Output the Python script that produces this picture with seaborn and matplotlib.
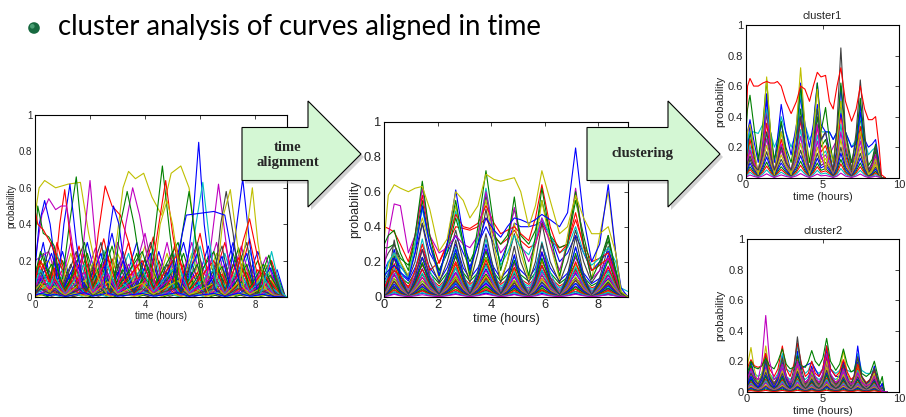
import numpy as np
import pandas as pd
import matplotlib
matplotlib.use("Agg")
import matplotlib.pyplot as plt
import seaborn as sns
from matplotlib.patches import Polygon, Circle

sns.set_style("white")
plt.rcParams['font.family'] = ['Liberation Sans', 'DejaVu Sans']

# ---------------- text ----------------
bullet_text = "cluster analysis of curves aligned in time"
arrow1_text = "time\nalignment"
arrow2_text = "clustering"
xlabel_text = "time (hours)"
ylabel_text = "probability"
cluster_titles = ["cluster1", "cluster2"]

y_ticks = [0, 0.2, 0.4, 0.6, 0.8, 1]
y_ticklabels = ["0", "0.2", "0.4", "0.6", "0.8", "1"]
x_ticks_main = [0, 2, 4, 6, 8]
x_ticklabels_main = ["0", "2", "4", "6", "8"]
x_ticks_cl = [0, 5, 10]
x_ticklabels_cl = ["0", "5", "10"]

# MATLAB default line colours
mcol = {'b': (0, 0, 1), 'g': (0, 0.5, 0), 'r': (1, 0, 0), 'c': (0, 0.75, 0.75),
        'm': (0.75, 0, 0.75), 'y': (0.75, 0.75, 0), 'k': (0.25, 0.25, 0.25)}
color_cycle = ['b', 'g', 'r', 'c', 'm', 'y', 'k']

# ---------------- panel 1: raw (unaligned) curves, keypoints (time, prob) ----------------
raw_y1 = [(0, 0.45), (0.15, 0.6), (0.35, 0.64), (0.75, 0.6), (1.2, 0.62), (1.65, 0.63), (1.95, 0.35), (2.3, 0.1), (2.6, 0.02)]
raw_y2 = [(2.7, 0.05), (3.0, 0.35), (3.2, 0.6), (3.4, 0.69), (3.65, 0.65), (3.95, 0.68), (4.25, 0.55), (4.6, 0.45), (4.95, 0.68), (5.3, 0.72), (5.6, 0.6), (5.85, 0.3), (6.1, 0.1), (6.3, 0.02)]
raw_b1 = [(5.3, 0.05), (5.55, 0.2), (5.75, 0.45), (5.95, 0.85), (6.15, 0.4), (6.4, 0.1), (6.6, 0.03)]
raw_b2 = [(7.0, 0.05), (7.25, 0.3), (7.55, 0.65), (7.8, 0.3), (8.05, 0.05)]
raw_y3 = [(7.4, 0.05), (7.65, 0.3), (7.9, 0.6), (8.1, 0.3), (8.35, 0.05)]
raw_g1 = [(4.1, 0.05), (4.35, 0.35), (4.63, 0.72), (4.9, 0.35), (5.15, 0.05)]
raw_r1 = [(4.2, 0.1), (4.45, 0.35), (4.75, 0.64), (5.0, 0.35), (5.3, 0.08)]
raw_m1 = [(1.6, 0.05), (1.8, 0.35), (2.0, 0.64), (2.2, 0.3), (2.45, 0.05)]
raw_r2 = [(2.1, 0.1), (2.3, 0.35), (2.55, 0.61), (2.8, 0.5), (3.1, 0.45), (3.4, 0.3), (3.7, 0.1)]
raw_g2 = [(1.0, 0.1), (1.25, 0.4), (1.5, 0.66), (1.7, 0.35), (1.95, 0.05)]
raw_b3 = [(0.85, 0.1), (1.05, 0.4), (1.27, 0.62), (1.5, 0.3), (1.75, 0.05)]
raw_r3 = [(0.7, 0.1), (0.9, 0.4), (1.08, 0.59), (1.3, 0.3), (1.55, 0.05)]
raw_m2 = [(0.0, 0.2), (0.25, 0.45), (0.5, 0.54), (0.75, 0.48), (0.95, 0.5), (1.15, 0.5), (1.4, 0.25), (1.7, 0.05)]
raw_b4 = [(0, 0.15), (0.15, 0.4), (0.35, 0.53), (0.55, 0.4), (0.8, 0.1)]
raw_g3 = [(0, 0.3), (0.1, 0.5), (0.3, 0.35), (0.5, 0.33), (0.7, 0.28), (0.9, 0.1)]
raw_r4 = [(0, 0.48), (0.1, 0.4), (0.3, 0.37), (0.55, 0.3), (0.8, 0.22), (1.0, 0.15)]
raw_m3 = [(3.0, 0.05), (3.3, 0.4), (3.55, 0.6), (3.8, 0.45), (4.1, 0.2), (4.4, 0.05)]
raw_m4 = [(6.2, 0.05), (6.45, 0.35), (6.67, 0.62), (6.9, 0.35), (7.15, 0.05)]
raw_k1 = [(6.5, 0.05), (6.75, 0.4), (6.95, 0.58), (7.2, 0.35), (7.45, 0.05)]
raw_y4 = [(6.6, 0.1), (6.85, 0.45), (7.1, 0.59), (7.35, 0.3), (7.6, 0.05)]
raw_c1 = [(5.6, 0.1), (5.85, 0.4), (6.1, 0.63), (6.35, 0.3), (6.6, 0.05)]
raw_g4 = [(5.1, 0.05), (5.35, 0.35), (5.6, 0.58), (5.85, 0.3), (6.1, 0.05)]
raw_r5 = [(7.3, 0.1), (7.55, 0.3), (7.8, 0.43), (8.05, 0.25), (8.3, 0.05)]
raw_b5 = [(5.0, 0.1), (5.5, 0.45), (6.0, 0.46), (6.5, 0.47), (6.9, 0.45), (7.2, 0.2), (7.5, 0.05)]
raw_b6 = [(2.5, 0.05), (2.7, 0.35), (2.85, 0.5), (3.05, 0.4), (3.3, 0.1)]
raw_g5 = [(2.9, 0.1), (3.1, 0.4), (3.35, 0.58), (3.6, 0.4), (3.9, 0.1)]
raw_c2 = [(8.2, 0.02), (8.4, 0.12), (8.6, 0.25), (8.8, 0.12), (9.0, 0.02), (9.15, 0.0)]
raw_g6 = [(8.1, 0.02), (8.3, 0.15), (8.5, 0.23), (8.7, 0.12), (8.9, 0.02)]
raw_y5 = [(4.3, 0.1), (4.55, 0.4), (4.8, 0.53), (5.0, 0.4), (5.3, 0.1)]
raw_named = [(raw_y1, 'y'), (raw_y2, 'y'), (raw_b1, 'b'), (raw_b2, 'b'), (raw_y3, 'y'), (raw_g1, 'g'),
             (raw_r1, 'r'), (raw_m1, 'm'), (raw_r2, 'r'), (raw_g2, 'g'), (raw_b3, 'b'), (raw_r3, 'r'),
             (raw_m2, 'm'), (raw_b4, 'b'), (raw_g3, 'g'), (raw_r4, 'r'), (raw_m3, 'm'), (raw_m4, 'm'),
             (raw_k1, 'k'), (raw_y4, 'y'), (raw_c1, 'c'), (raw_g4, 'g'), (raw_r5, 'r'), (raw_b5, 'b'),
             (raw_b6, 'b'), (raw_g5, 'g'), (raw_c2, 'c'), (raw_g6, 'g'), (raw_y5, 'y')]

raw_bulk1 = [(0, 0.1), (0.3, 0.3), (0.6, 0.05), (1.0, 0.25), (1.4, 0.02), (1.9, 0.3), (2.3, 0.05), (2.8, 0.35), (3.2, 0.05), (3.7, 0.3), (4.1, 0.03), (4.5, 0.25), (4.9, 0.05), (5.4, 0.3), (5.8, 0.04), (6.3, 0.28), (6.7, 0.03), (7.2, 0.3), (7.6, 0.05), (8.1, 0.25), (8.5, 0.05), (8.8, 0.15), (9.1, 0.0)]
raw_bulk2 = [(0, 0.05), (0.15, 0.2), (0.45, 0.03), (0.8, 0.3), (1.2, 0.05), (1.6, 0.28), (2.0, 0.03), (2.5, 0.32), (2.9, 0.04), (3.4, 0.3), (3.8, 0.05), (4.3, 0.33), (4.7, 0.03), (5.1, 0.3), (5.5, 0.05), (6.0, 0.35), (6.4, 0.04), (6.9, 0.3), (7.3, 0.04), (7.8, 0.32), (8.2, 0.04), (8.6, 0.2), (9.0, 0.01)]
raw_bulk3 = [(0, 0.2), (0.5, 0.25), (0.9, 0.04), (1.3, 0.3), (1.7, 0.05), (2.2, 0.27), (2.6, 0.03), (3.0, 0.3), (3.5, 0.08), (4.0, 0.35), (4.4, 0.05), (4.8, 0.3), (5.2, 0.03), (5.7, 0.3), (6.1, 0.05), (6.6, 0.3), (7.0, 0.04), (7.5, 0.28), (7.9, 0.04), (8.4, 0.22), (8.8, 0.03), (9.1, 0.0)]
raw_bulk4 = [(0, 0.02), (0.6, 0.3), (1.0, 0.04), (1.5, 0.25), (1.85, 0.05), (2.4, 0.3), (2.75, 0.03), (3.2, 0.25), (3.6, 0.03), (4.2, 0.3), (4.6, 0.04), (5.0, 0.25), (5.3, 0.03), (5.9, 0.3), (6.2, 0.04), (6.8, 0.28), (7.1, 0.05), (7.7, 0.3), (8.0, 0.03), (8.55, 0.2), (9.0, 0.0)]
raw_bulk5 = [(0, 0.12), (0.2, 0.25), (0.55, 0.1), (0.7, 0.2), (1.1, 0.03), (1.8, 0.3), (2.1, 0.05), (2.65, 0.28), (3.0, 0.05), (3.9, 0.25), (4.3, 0.05), (5.2, 0.3), (5.6, 0.04), (6.5, 0.25), (6.9, 0.03), (7.4, 0.27), (7.8, 0.05), (8.3, 0.18), (8.7, 0.02), (9.1, 0.0)]
raw_bulk_profiles = [raw_bulk1, raw_bulk2, raw_bulk3, raw_bulk4, raw_bulk5]
raw_bulk_scales = [1.0, 0.8, 0.6, 0.45, 0.3, 0.18, 0.08]

# ---------------- panel 2: aligned curves ----------------
mid_t = [0, 0.15, 0.37, 0.6, 0.9, 1.15, 1.42, 1.7, 2.05, 2.35, 2.67, 2.95, 3.2, 3.5, 3.8, 4.1, 4.35,
         4.6, 4.86, 5.1, 5.4, 5.65, 5.89, 6.2, 6.55, 6.85, 7.15, 7.45, 7.75, 8.05, 8.37, 8.65, 8.85, 9.1]
mid_y1 = [0.33, 0.58, 0.64, 0.62, 0.60, 0.62, 0.63, 0.50, 0.26, 0.33, 0.60, 0.55, 0.45, 0.52, 0.70, 0.67, 0.66, 0.67, 0.68, 0.60, 0.40, 0.52, 0.72, 0.55, 0.36, 0.40, 0.58, 0.45, 0.36, 0.36, 0.40, 0.25, 0.03, 0.0]
mid_b1 = [0.12, 0.15, 0.18, 0.14, 0.10, 0.25, 0.52, 0.30, 0.12, 0.30, 0.61, 0.35, 0.15, 0.30, 0.45, 0.38, 0.34, 0.40, 0.45, 0.44, 0.42, 0.44, 0.47, 0.44, 0.40, 0.48, 0.85, 0.45, 0.20, 0.30, 0.64, 0.25, 0.05, 0.0]
mid_g1 = [0.30, 0.35, 0.38, 0.25, 0.15, 0.35, 0.66, 0.35, 0.12, 0.30, 0.55, 0.30, 0.12, 0.40, 0.72, 0.40, 0.15, 0.30, 0.57, 0.30, 0.12, 0.35, 0.62, 0.35, 0.12, 0.30, 0.60, 0.30, 0.10, 0.20, 0.35, 0.15, 0.02, 0.0]
mid_m1 = [0.15, 0.35, 0.53, 0.52, 0.25, 0.35, 0.62, 0.35, 0.25, 0.28, 0.35, 0.30, 0.28, 0.35, 0.60, 0.35, 0.25, 0.30, 0.51, 0.30, 0.20, 0.30, 0.45, 0.30, 0.15, 0.30, 0.62, 0.30, 0.10, 0.15, 0.22, 0.12, 0.02, 0.0]
mid_r1 = [0.40, 0.39, 0.37, 0.30, 0.20, 0.35, 0.58, 0.35, 0.19, 0.30, 0.47, 0.40, 0.39, 0.42, 0.52, 0.42, 0.36, 0.38, 0.40, 0.36, 0.32, 0.45, 0.64, 0.40, 0.25, 0.30, 0.48, 0.28, 0.15, 0.18, 0.22, 0.10, 0.02, 0.0]
mid_c1 = [0.10, 0.20, 0.25, 0.18, 0.10, 0.30, 0.50, 0.30, 0.12, 0.28, 0.49, 0.30, 0.14, 0.35, 0.62, 0.35, 0.18, 0.25, 0.35, 0.28, 0.24, 0.33, 0.45, 0.35, 0.25, 0.28, 0.40, 0.25, 0.18, 0.22, 0.28, 0.20, 0.05, 0.03]
mid_y2 = [0.10, 0.18, 0.25, 0.20, 0.12, 0.30, 0.45, 0.30, 0.10, 0.30, 0.52, 0.30, 0.10, 0.35, 0.55, 0.30, 0.10, 0.20, 0.42, 0.25, 0.10, 0.30, 0.55, 0.30, 0.10, 0.35, 0.58, 0.30, 0.10, 0.35, 0.60, 0.25, 0.02, 0.0]
mid_k1 = [0.20, 0.25, 0.30, 0.20, 0.10, 0.20, 0.42, 0.20, 0.08, 0.20, 0.38, 0.20, 0.08, 0.25, 0.50, 0.25, 0.08, 0.20, 0.36, 0.20, 0.08, 0.20, 0.42, 0.20, 0.08, 0.20, 0.38, 0.20, 0.08, 0.15, 0.35, 0.12, 0.02, 0.0]
mid_g2 = [0.28, 0.28, 0.30, 0.22, 0.18, 0.30, 0.55, 0.30, 0.15, 0.25, 0.45, 0.30, 0.20, 0.30, 0.58, 0.35, 0.30, 0.35, 0.50, 0.35, 0.30, 0.38, 0.55, 0.35, 0.28, 0.30, 0.55, 0.35, 0.15, 0.18, 0.32, 0.15, 0.02, 0.0]
mid_r2 = [0.05, 0.10, 0.15, 0.12, 0.05, 0.15, 0.30, 0.15, 0.20, 0.30, 0.40, 0.39, 0.38, 0.40, 0.45, 0.35, 0.30, 0.33, 0.38, 0.32, 0.28, 0.30, 0.42, 0.32, 0.28, 0.30, 0.44, 0.30, 0.20, 0.22, 0.25, 0.12, 0.02, 0.0]
mid_b2 = [0.15, 0.20, 0.22, 0.17, 0.12, 0.25, 0.42, 0.25, 0.15, 0.25, 0.35, 0.25, 0.17, 0.30, 0.40, 0.30, 0.20, 0.30, 0.42, 0.40, 0.40, 0.41, 0.43, 0.35, 0.20, 0.25, 0.35, 0.25, 0.15, 0.20, 0.26, 0.15, 0.03, 0.0]
mid_named = [(mid_b2, 'b'), (mid_r2, 'r'), (mid_g2, 'g'), (mid_k1, 'k'), (mid_y2, 'y'), (mid_c1, 'c'),
             (mid_r1, 'r'), (mid_m1, 'm'), (mid_g1, 'g'), (mid_b1, 'b'), (mid_y1, 'y')]

mid_shape_a = [0.15, 0.4, 0.8, 0.45, 0.1, 0.45, 1.0, 0.45, 0.08, 0.4, 0.85, 0.4, 0.1, 0.45, 1.0, 0.45, 0.1, 0.35, 0.7, 0.35, 0.08, 0.45, 0.95, 0.42, 0.08, 0.38, 0.85, 0.38, 0.06, 0.3, 0.65, 0.25, 0.03, 0.0]
mid_shape_b = [0.3, 0.45, 0.6, 0.45, 0.3, 0.55, 0.9, 0.55, 0.3, 0.55, 1.0, 0.55, 0.35, 0.55, 0.9, 0.55, 0.35, 0.5, 0.65, 0.5, 0.35, 0.55, 1.0, 0.55, 0.3, 0.45, 0.75, 0.45, 0.25, 0.35, 0.5, 0.3, 0.05, 0.0]
mid_shape_c = [0.05, 0.3, 0.9, 0.35, 0.02, 0.3, 0.75, 0.3, 0.02, 0.35, 0.9, 0.35, 0.03, 0.4, 1.0, 0.4, 0.03, 0.3, 0.8, 0.3, 0.02, 0.3, 0.85, 0.3, 0.02, 0.35, 0.95, 0.35, 0.02, 0.3, 0.8, 0.3, 0.02, 0.0]
mid_scale_a = [0.33, 0.27, 0.22, 0.19, 0.16, 0.13, 0.11, 0.09, 0.07, 0.05, 0.035, 0.02]
mid_scale_b = [0.3, 0.25, 0.2, 0.17, 0.14, 0.12, 0.1, 0.08, 0.06, 0.04, 0.025]
mid_scale_c = [0.36, 0.3, 0.26, 0.21, 0.18, 0.15, 0.12, 0.1, 0.08, 0.06, 0.045, 0.03, 0.015]

# ---------------- panel 3: cluster1 ----------------
c1_t = [0, 0.1, 0.26, 0.5, 0.8, 1.1, 1.35, 1.6, 1.85, 2.05, 2.3, 2.6, 2.95, 3.3, 3.57, 3.85, 4.15, 4.4,
        4.66, 4.9, 5.2, 5.45, 5.7, 5.95, 6.2, 6.5, 6.9, 7.2, 7.47, 7.75, 8.0, 8.25, 8.47, 8.7, 8.85, 9.1]
c1_red = [0.32, 0.60, 0.65, 0.60, 0.60, 0.62, 0.63, 0.62, 0.62, 0.63, 0.60, 0.50, 0.42, 0.50, 0.60, 0.58, 0.50, 0.60, 0.69, 0.66, 0.67, 0.50, 0.45, 0.60, 0.72, 0.50, 0.37, 0.45, 0.60, 0.45, 0.38, 0.38, 0.40, 0.20, 0.02, 0.0]
c1_black = [0.05, 0.10, 0.14, 0.08, 0.05, 0.15, 0.30, 0.15, 0.05, 0.10, 0.20, 0.10, 0.05, 0.20, 0.40, 0.20, 0.05, 0.20, 0.45, 0.25, 0.30, 0.15, 0.05, 0.35, 0.85, 0.30, 0.05, 0.30, 0.64, 0.30, 0.05, 0.10, 0.20, 0.05, 0.0, 0.0]
c1_yellow = [0.20, 0.30, 0.35, 0.20, 0.02, 0.30, 0.66, 0.30, 0.02, 0.15, 0.30, 0.15, 0.02, 0.35, 0.72, 0.35, 0.02, 0.30, 0.58, 0.30, 0.05, 0.20, 0.10, 0.25, 0.50, 0.25, 0.05, 0.15, 0.30, 0.15, 0.02, 0.05, 0.12, 0.03, 0.0, 0.0]
c1_green = [0.30, 0.45, 0.54, 0.35, 0.12, 0.35, 0.64, 0.30, 0.12, 0.20, 0.37, 0.20, 0.10, 0.30, 0.60, 0.30, 0.10, 0.30, 0.62, 0.30, 0.46, 0.25, 0.10, 0.30, 0.62, 0.30, 0.10, 0.25, 0.52, 0.25, 0.08, 0.12, 0.22, 0.08, 0.0, 0.0]
c1_blue = [0.15, 0.30, 0.38, 0.25, 0.10, 0.30, 0.55, 0.30, 0.10, 0.25, 0.48, 0.30, 0.15, 0.35, 0.62, 0.35, 0.20, 0.35, 0.62, 0.35, 0.30, 0.30, 0.25, 0.30, 0.42, 0.30, 0.20, 0.22, 0.43, 0.25, 0.20, 0.22, 0.25, 0.10, 0.0, 0.0]
c1_cyan = [0.10, 0.25, 0.30, 0.30, 0.29, 0.35, 0.45, 0.30, 0.20, 0.25, 0.40, 0.30, 0.20, 0.30, 0.55, 0.35, 0.25, 0.30, 0.45, 0.30, 0.30, 0.30, 0.25, 0.30, 0.45, 0.30, 0.20, 0.25, 0.40, 0.25, 0.15, 0.18, 0.20, 0.08, 0.0, 0.0]
c1_magenta = [0.05, 0.12, 0.18, 0.10, 0.05, 0.20, 0.45, 0.20, 0.05, 0.12, 0.22, 0.12, 0.05, 0.20, 0.40, 0.20, 0.05, 0.15, 0.35, 0.15, 0.05, 0.15, 0.20, 0.25, 0.45, 0.20, 0.10, 0.15, 0.28, 0.15, 0.05, 0.08, 0.15, 0.05, 0.0, 0.0]
c1_named = [(c1_magenta, 'm'), (c1_cyan, 'c'), (c1_blue, 'b'), (c1_green, 'g'), (c1_yellow, 'y'),
            (c1_black, 'k'), (c1_red, 'r')]
c1_shape = [0.1, 0.3, 0.6, 0.3, 0.05, 0.4, 0.85, 0.4, 0.05, 0.3, 0.6, 0.3, 0.05, 0.4, 0.9, 0.4, 0.05, 0.35, 0.8, 0.4, 0.5, 0.3, 0.05, 0.35, 1.0, 0.35, 0.05, 0.35, 0.8, 0.3, 0.05, 0.15, 0.35, 0.1, 0.0, 0.0]
c1_scales = [0.6, 0.5, 0.42, 0.35, 0.3, 0.25, 0.2, 0.16, 0.12, 0.09, 0.06, 0.03]

# ---------------- panel 4: cluster2 ----------------
c2_t = [0, 0.1, 0.28, 0.5, 0.75, 1.0, 1.25, 1.5, 1.8, 2.05, 2.34, 2.6, 2.85, 3.1, 3.33, 3.6, 3.85, 4.05, 4.27, 4.5,
        4.75, 5.0, 5.25, 5.5, 5.85, 6.1, 6.35, 6.6, 6.85, 7.05, 7.29, 7.55, 7.85, 8.1, 8.38, 8.62, 8.75, 8.9, 9.05, 9.2]
c2_mag = [0.05, 0.10, 0.15, 0.10, 0.08, 0.20, 0.50, 0.20, 0.08, 0.10, 0.18, 0.10, 0.06, 0.10, 0.20, 0.10, 0.06, 0.08, 0.15, 0.10, 0.06, 0.12, 0.25, 0.12, 0.06, 0.08, 0.15, 0.08, 0.05, 0.06, 0.12, 0.06, 0.04, 0.05, 0.10, 0.04, 0.02, 0.0, 0.0, 0.0]
c2_black = [0.05, 0.08, 0.12, 0.08, 0.05, 0.10, 0.20, 0.10, 0.05, 0.10, 0.22, 0.10, 0.05, 0.15, 0.36, 0.15, 0.05, 0.08, 0.15, 0.08, 0.05, 0.10, 0.25, 0.10, 0.05, 0.08, 0.18, 0.08, 0.05, 0.10, 0.23, 0.10, 0.05, 0.08, 0.15, 0.06, 0.02, 0.0, 0.0, 0.0]
c2_green = [0.10, 0.14, 0.20, 0.16, 0.15, 0.17, 0.22, 0.17, 0.15, 0.20, 0.28, 0.18, 0.15, 0.16, 0.20, 0.17, 0.16, 0.20, 0.27, 0.20, 0.17, 0.22, 0.35, 0.20, 0.14, 0.18, 0.28, 0.18, 0.13, 0.14, 0.22, 0.12, 0.10, 0.12, 0.20, 0.10, 0.05, 0.10, 0.0, 0.0]
c2_yellow = [0.10, 0.20, 0.29, 0.15, 0.05, 0.12, 0.30, 0.12, 0.05, 0.10, 0.22, 0.10, 0.05, 0.10, 0.20, 0.10, 0.05, 0.08, 0.13, 0.08, 0.05, 0.10, 0.20, 0.10, 0.05, 0.12, 0.27, 0.12, 0.05, 0.08, 0.18, 0.08, 0.04, 0.06, 0.12, 0.05, 0.02, 0.0, 0.0, 0.0]
c2_red = [0.12, 0.17, 0.21, 0.17, 0.16, 0.17, 0.25, 0.15, 0.10, 0.15, 0.30, 0.15, 0.10, 0.18, 0.32, 0.18, 0.10, 0.12, 0.20, 0.12, 0.10, 0.15, 0.30, 0.15, 0.10, 0.13, 0.21, 0.13, 0.08, 0.10, 0.18, 0.10, 0.06, 0.08, 0.15, 0.06, 0.02, 0.0, 0.0, 0.0]
c2_blue = [0.03, 0.06, 0.10, 0.06, 0.03, 0.08, 0.20, 0.08, 0.03, 0.08, 0.20, 0.08, 0.03, 0.10, 0.20, 0.15, 0.17, 0.18, 0.19, 0.15, 0.10, 0.15, 0.30, 0.15, 0.10, 0.10, 0.20, 0.10, 0.05, 0.10, 0.30, 0.10, 0.05, 0.08, 0.15, 0.08, 0.03, 0.05, 0.0, 0.0]
c2_cyan = [0.05, 0.08, 0.10, 0.08, 0.06, 0.10, 0.20, 0.10, 0.08, 0.12, 0.25, 0.15, 0.13, 0.16, 0.30, 0.16, 0.12, 0.14, 0.20, 0.14, 0.12, 0.15, 0.30, 0.15, 0.12, 0.14, 0.18, 0.14, 0.13, 0.14, 0.25, 0.14, 0.12, 0.12, 0.15, 0.08, 0.03, 0.0, 0.0, 0.0]
c2_named = [(c2_cyan, 'c'), (c2_blue, 'b'), (c2_yellow, 'y'), (c2_red, 'r'), (c2_green, 'g'),
            (c2_black, 'k'), (c2_mag, 'm')]
c2_shape_a = [0.2, 0.4, 0.7, 0.4, 0.2, 0.4, 0.9, 0.4, 0.15, 0.35, 0.85, 0.35, 0.15, 0.4, 0.95, 0.4, 0.15, 0.3, 0.6, 0.3, 0.15, 0.4, 1.0, 0.4, 0.15, 0.3, 0.7, 0.3, 0.12, 0.3, 0.7, 0.3, 0.1, 0.25, 0.6, 0.2, 0.05, 0.2, 0.0, 0.0]
c2_shape_b = [0.5, 0.6, 0.8, 0.6, 0.5, 0.6, 1.0, 0.6, 0.4, 0.5, 0.8, 0.5, 0.4, 0.5, 0.8, 0.5, 0.4, 0.5, 0.7, 0.5, 0.4, 0.5, 0.9, 0.5, 0.4, 0.5, 0.7, 0.5, 0.4, 0.45, 0.6, 0.45, 0.3, 0.3, 0.5, 0.3, 0.1, 0.2, 0.0, 0.0]
c2_scales_a = [0.28, 0.25, 0.22, 0.2, 0.18, 0.16, 0.14, 0.12, 0.11, 0.09, 0.08, 0.065, 0.05, 0.04, 0.03, 0.02, 0.01]
c2_scales_b = [0.2, 0.16, 0.13, 0.1, 0.08, 0.06, 0.04]


# ---------------- helpers ----------------
def frames_from_keypoints(prefix, items, start):
    rows, pal, k = [], {}, start
    for pts, col in items:
        name = f"{prefix}{k}"
        for t, p in pts:
            rows.append((name, t, p))
        pal[name] = mcol[col]
        k += 1
    return rows, pal, k


def frames_from_grid(prefix, t, items, start):
    rows, pal, k = [], {}, start
    for vals, col in items:
        name = f"{prefix}{k}"
        for tt, p in zip(t, vals):
            rows.append((name, tt, p))
        pal[name] = mcol[col]
        k += 1
    return rows, pal, k


def scaled_items(shape, scales, offset):
    out = []
    for i, s in enumerate(scales):
        out.append(([s * v for v in shape], color_cycle[(i + offset) % len(color_cycle)]))
    return out


def scaled_keypoints(profile, scales, offset):
    out = []
    for i, s in enumerate(scales):
        out.append(([(t, s * p) for t, p in profile], color_cycle[(i + offset) % len(color_cycle)]))
    return out


def draw(ax, rows, pal):
    df = pd.DataFrame(rows, columns=["curve", "t", "p"])
    order = list(dict.fromkeys(df["curve"]))
    sns.lineplot(data=df, x="t", y="p", hue="curve", hue_order=order, palette=pal,
                 estimator=None, legend=False, linewidth=0.8, ax=ax)


def style(ax, xlim, xticks, xticklabels, fs, lfs):
    ax.set_xlim(*xlim)
    ax.set_ylim(0, 1)
    ax.set_xticks(xticks)
    ax.set_xticklabels(xticklabels, fontsize=fs)
    ax.set_yticks(y_ticks)
    ax.set_yticklabels(y_ticklabels, fontsize=fs)
    ax.tick_params(direction="in", top=True, right=True, length=3, width=0.6, pad=2)
    ax.set_xlabel(xlabel_text, fontsize=lfs, labelpad=1)
    ax.set_ylabel(ylabel_text, fontsize=lfs, labelpad=2)
    for s in ax.spines.values():
        s.set_color("black")
        s.set_linewidth(0.8)
        s.set_visible(True)


W, H = 906, 417
fig = plt.figure(figsize=(W / 100, H / 100), dpi=100)
fig.patch.set_facecolor("white")


def px_axes(l, r, t, b):
    return fig.add_axes([l / W, (H - b) / H, (r - l) / W, (b - t) / H])


# panel 1
ax1 = px_axes(35, 287, 115, 297)
rows, pal, k = [], {}, 0
for j, prof in enumerate(raw_bulk_profiles):
    r_, p_, k = frames_from_keypoints("raw", scaled_keypoints(prof, raw_bulk_scales, j * 2), k)
    rows += r_; pal.update(p_)
r_, p_, k = frames_from_keypoints("raw", raw_named, k)
rows += r_; pal.update(p_)
draw(ax1, rows, pal)
style(ax1, (0, 9.16), x_ticks_main, x_ticklabels_main, 7, 7)

# panel 2
ax2 = px_axes(384.3, 628.3, 121.7, 296.7)
rows, pal, k = [], {}, 0
for j, (shape, scales) in enumerate([(mid_shape_b, mid_scale_b), (mid_shape_a, mid_scale_a), (mid_shape_c, mid_scale_c)]):
    r_, p_, k = frames_from_grid("mid", mid_t, scaled_items(shape, scales, j * 3), k)
    rows += r_; pal.update(p_)
r_, p_, k = frames_from_grid("mid", mid_t, mid_named, k)
rows += r_; pal.update(p_)
draw(ax2, rows, pal)
style(ax2, (0, 9.12), x_ticks_main, x_ticklabels_main, 9.3, 9)

# panel 3
ax3 = px_axes(746, 899, 25, 177.7)
rows, pal, k = [], {}, 0
r_, p_, k = frames_from_grid("c1_", c1_t, scaled_items(c1_shape, c1_scales, 0), k)
rows += r_; pal.update(p_)
r_, p_, k = frames_from_grid("c1_", c1_t, c1_named, k)
rows += r_; pal.update(p_)
draw(ax3, rows, pal)
style(ax3, (0, 10), x_ticks_cl, x_ticklabels_cl, 8, 8)
ax3.set_title(cluster_titles[0], fontsize=8, pad=4)

# panel 4
ax4 = px_axes(746.7, 899, 239.3, 391.7)
rows, pal, k = [], {}, 0
r_, p_, k = frames_from_grid("c2_", c2_t, scaled_items(c2_shape_b, c2_scales_b, 3), k)
rows += r_; pal.update(p_)
r_, p_, k = frames_from_grid("c2_", c2_t, scaled_items(c2_shape_a, c2_scales_a, 0), k)
rows += r_; pal.update(p_)
r_, p_, k = frames_from_grid("c2_", c2_t, c2_named, k)
rows += r_; pal.update(p_)
draw(ax4, rows, pal)
style(ax4, (0, 10), x_ticks_cl, x_ticklabels_cl, 8, 8)
ax4.set_title(cluster_titles[1], fontsize=8, pad=4)

# overlay: bullet text and arrows
ov = fig.add_axes([0, 0, 1, 1], zorder=20)
ov.set_xlim(0, W)
ov.set_ylim(H, 0)
ov.axis("off")
ov.patch.set_alpha(0)

ov.add_patch(Circle((34, 28), 5.8, facecolor="#17693f", edgecolor="none"))
ov.add_patch(Circle((32.3, 26.3), 2.3, facecolor="#5fb58a", edgecolor="none", alpha=0.7))
ov.text(58, 35, bullet_text, fontsize=19.8, family=["Lato", "DejaVu Sans"], color="black",
        ha="left", va="baseline")

arrow_fill = "#d4f7d4"


def arrow(x0, xs, xt, yc, hr, hh):
    pts = [(x0, yc - hr), (xs, yc - hr), (xs, yc - hh), (xt, yc), (xs, yc + hh), (xs, yc + hr), (x0, yc + hr)]
    sh = [(x + 3, y + 3) for x, y in pts]
    ov.add_patch(Polygon(sh, closed=True, facecolor="#999999", edgecolor="none", alpha=0.45))
    ov.add_patch(Polygon(pts, closed=True, facecolor=arrow_fill, edgecolor="black", linewidth=0.8))


arrow(242, 308, 361, 154, 26.5, 53)
arrow(587, 668, 720, 154, 26.5, 53)
ov.text(288, 155, arrow1_text, fontsize=10.5, fontweight="bold", family=["Liberation Serif", "DejaVu Serif"],
        ha="center", va="center", linespacing=1.15)
ov.text(642, 154, arrow2_text, fontsize=10.5, fontweight="bold", family=["Liberation Serif", "DejaVu Serif"],
        ha="center", va="center")

fig.savefig("out.png", dpi=100, facecolor="white")
